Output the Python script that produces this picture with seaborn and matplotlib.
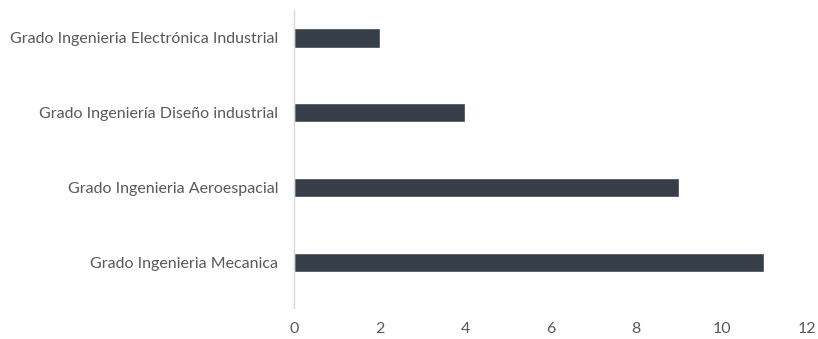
import matplotlib
matplotlib.use("Agg")
import matplotlib.pyplot as plt
import seaborn as sns
import pandas as pd

categories = [
    "Grado Ingenieria Electrónica Industrial",
    "Grado Ingeniería Diseño industrial",
    "Grado Ingenieria Aeroespacial",
    "Grado Ingenieria Mecanica",
]
values = [2, 4, 9, 11]
x_ticks = [0, 2, 4, 6, 8, 10, 12]

sns.set_theme(style="white")
plt.rcParams["font.family"] = ["Lato", "DejaVu Sans"]

df = pd.DataFrame({"cat": categories, "val": values})

fig = plt.figure(figsize=(8.18, 3.39), dpi=100)
ax = fig.add_axes([294 / 818, 1 - 308 / 339, (807 - 294) / 818, (308 - 10) / 339])

sns.barplot(data=df, y="cat", x="val", orient="h", color="#363E47",
            width=0.26, saturation=1, ax=ax)

ax.set_xlim(0, 12)
ax.set_ylim(3.61, -0.374)
ax.set_xticks(x_ticks)
ax.set_xlabel("")
ax.set_ylabel("")
for s in ["top", "right", "bottom"]:
    ax.spines[s].set_visible(False)
ax.spines["left"].set_color("#D9D9D9")
ax.spines["left"].set_linewidth(1.0)
ax.tick_params(axis="x", length=0, pad=10, labelsize=11.5, labelcolor="#595959")
ax.tick_params(axis="y", length=0, pad=11.5, labelsize=11.5, labelcolor="#595959")

fig.savefig("out.png", dpi=100)
